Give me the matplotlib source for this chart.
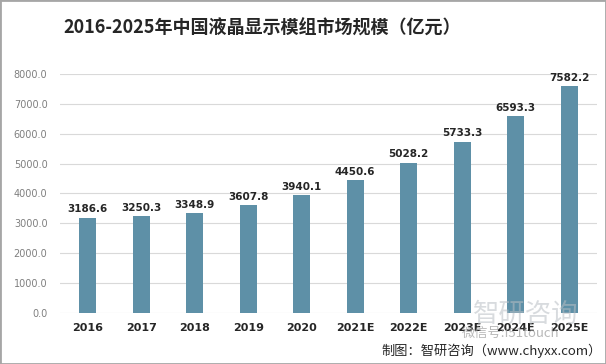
import matplotlib.pyplot as plt
from matplotlib.patches import Rectangle

plt.rcParams['font.family'] = ['Noto Sans CJK SC', 'DejaVu Sans']

years = ["2016", "2017", "2018", "2019", "2020", "2021E", "2022E", "2023E", "2024E", "2025E"]
values = [3186.6, 3250.3, 3348.9, 3607.8, 3940.1, 4450.6, 5028.2, 5733.3, 6593.3, 7582.2]
yticks = [0, 1000, 2000, 3000, 4000, 5000, 6000, 7000, 8000]

bar_color = "#5E90A7"

fig = plt.figure(figsize=(6.06, 3.64), dpi=100)
ax = fig.add_axes([0.099, 0.140, 0.886, 0.657])

x = range(len(years))
ax.bar(x, values, width=0.318, color=bar_color, zorder=3)
for i, v in zip(x, values):
    ax.text(i, v + 110, f"{v:.1f}", ha="center", va="bottom", fontsize=7.5,
            fontweight="bold", color="#262626", family=["DejaVu Sans"])

ax.set_xlim(-0.52, 9.52)
ax.set_ylim(0, 8000)
ax.set_yticks(yticks)
ax.set_yticklabels([f"{t:.1f}" for t in yticks], fontsize=7, color="#7F7F7F",
                   family=["DejaVu Sans"])
ax.set_xticks(list(x))
ax.set_xticklabels(years, fontsize=8, fontweight="bold", color="#262626",
                   family=["DejaVu Sans"])
ax.tick_params(axis="x", length=0, pad=7)
ax.tick_params(axis="y", length=0, pad=9)
ax.grid(axis="y", color="#D9D9D9", linewidth=0.8, zorder=0)
for s in ax.spines.values():
    s.set_visible(False)

fig.text(0.433, 0.923, "2016-2025年中国液晶显示模组市场规模（亿元）", ha="center", va="center",
         fontsize=13, fontweight="bold", color="#262626")

# watermark
fig.text(0.868, 0.135, "智研咨询", ha="center", va="center", fontsize=19,
         color="#B8BEC4", alpha=0.55)
fig.text(0.843, 0.085, "微信号:I51touch", ha="center", va="center", fontsize=9.5,
         color="#9A9A9A", alpha=0.7)
fig.text(0.993, 0.035, "制图：智研咨询（www.chyxx.com）", ha="right", va="center",
         fontsize=9.5, color="#262626")

fig.add_artist(Rectangle((0, 0), 1, 1, transform=fig.transFigure, fill=False,
                         edgecolor="#A6A6A6", linewidth=2))

fig.savefig("out.png", dpi=100)
